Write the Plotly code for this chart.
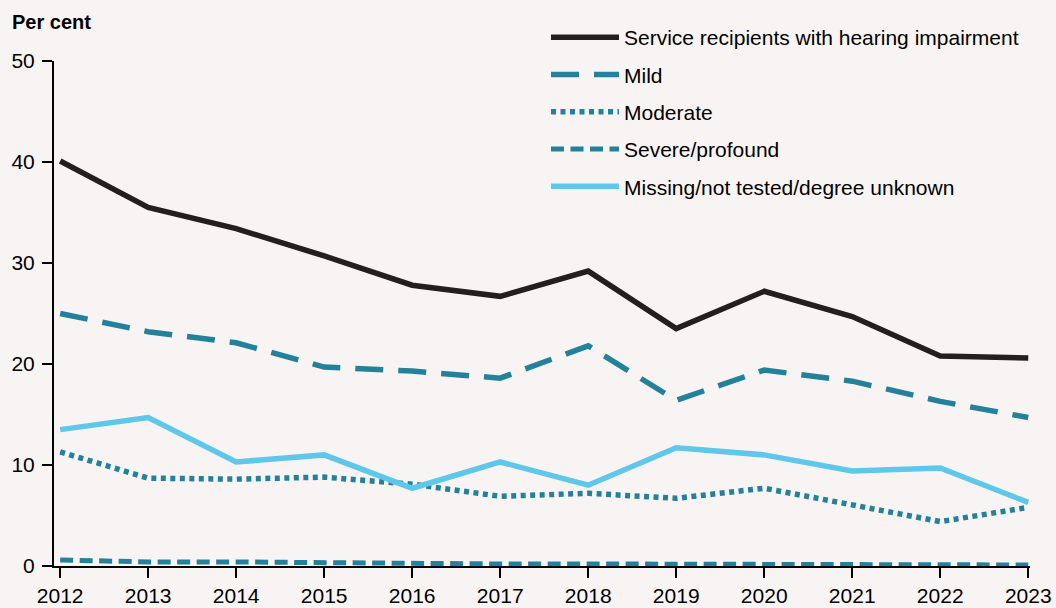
import plotly.graph_objects as go

years = list(range(2012, 2024))
total = [40.1, 35.5, 33.4, 30.7, 27.8, 26.7, 29.2, 23.5, 27.2, 24.7, 20.8, 20.6]
mild = [25.0, 23.2, 22.1, 19.7, 19.3, 18.6, 21.8, 16.4, 19.4, 18.3, 16.3, 14.7]
moderate = [11.3, 8.7, 8.6, 8.8, 8.1, 6.9, 7.2, 6.7, 7.7, 6.1, 4.4, 5.8]
severe = [0.6, 0.4, 0.4, 0.3, 0.2, 0.2, 0.2, 0.2, 0.1, 0.1, 0.1, 0.1]
missing = [13.5, 14.7, 10.3, 11.0, 7.7, 10.3, 8.0, 11.7, 11.0, 9.4, 9.7, 6.3]

names = ["Service recipients with hearing impairment", "Mild", "Moderate",
         "Severe/profound", "Missing/not tested/degree unknown"]

BLACK = "#231f20"
TEAL = "#23819b"
LIGHT = "#5fc7ea"
BG = "#f9f4f4"
FONT = "Arial, Liberation Sans, sans-serif"

series = [
    (total, names[0], BLACK, 5.5, "solid"),
    (mild, names[1], TEAL, 5.5, "28px,15px"),
    (moderate, names[2], TEAL, 5.5, "5px,4.5px"),
    (severe, names[3], TEAL, 5, "13px,6.5px"),
    (missing, names[4], LIGHT, 5.5, "solid"),
]

fig = go.Figure()
order = [3, 2, 4, 1, 0]
traces = {}
for i, (vals, nm, col, w, dash) in enumerate(series):
    traces[i] = go.Scatter(x=years, y=vals, name=nm, mode="lines",
                           line=dict(color=col, width=w, dash=dash),
                           legendgroup=nm, legendrank=i + 1, hoverinfo="skip")
for i in order:
    fig.add_trace(traces[i])

fig.update_layout(
    width=1056, height=608,
    paper_bgcolor=BG, plot_bgcolor=BG,
    margin=dict(l=54, r=26, t=61, b=42, autoexpand=False),
    font=dict(family=FONT, size=21, color="#000000"),
    showlegend=True,
    legend=dict(x=546 / 1056, y=1 - 17 / 608, xref="container", yref="container",
                xanchor="left", yanchor="top",
                bgcolor="rgba(0,0,0,0)", itemwidth=68,
                tracegroupgap=7, font=dict(size=21, family=FONT),
                traceorder="grouped"),
    xaxis=dict(range=[2011.93, 2023.02], tickmode="array", tickvals=years,
               ticktext=[str(y) for y in years], showgrid=False, zeroline=False,
               showline=True, linecolor="#000000", linewidth=2, automargin=False,
               ticks="outside", ticklen=10, tickwidth=2, tickcolor="#000000",
               tickfont=dict(size=21, family=FONT)),
    yaxis=dict(range=[0, 50], tickvals=[0, 10, 20, 30, 40, 50], showgrid=False,
               zeroline=False, showline=True, linecolor="#000000", linewidth=2,
               automargin=False, ticklabelstandoff=3,
               ticks="outside", ticklen=10, tickwidth=2, tickcolor="#000000",
               tickfont=dict(size=21, family=FONT)),
    annotations=[dict(text="<b>Per cent</b>", xref="paper", yref="paper",
                      x=-44 / 976, y=(566 - 22) / 505, xanchor="left", yanchor="middle",
                      showarrow=False, font=dict(size=20, family=FONT))],
)

fig.write_html("out.html", config={"displayModeBar": False},
               post_script="document.body.style.margin='0';document.body.style.background='" + BG + "';")
